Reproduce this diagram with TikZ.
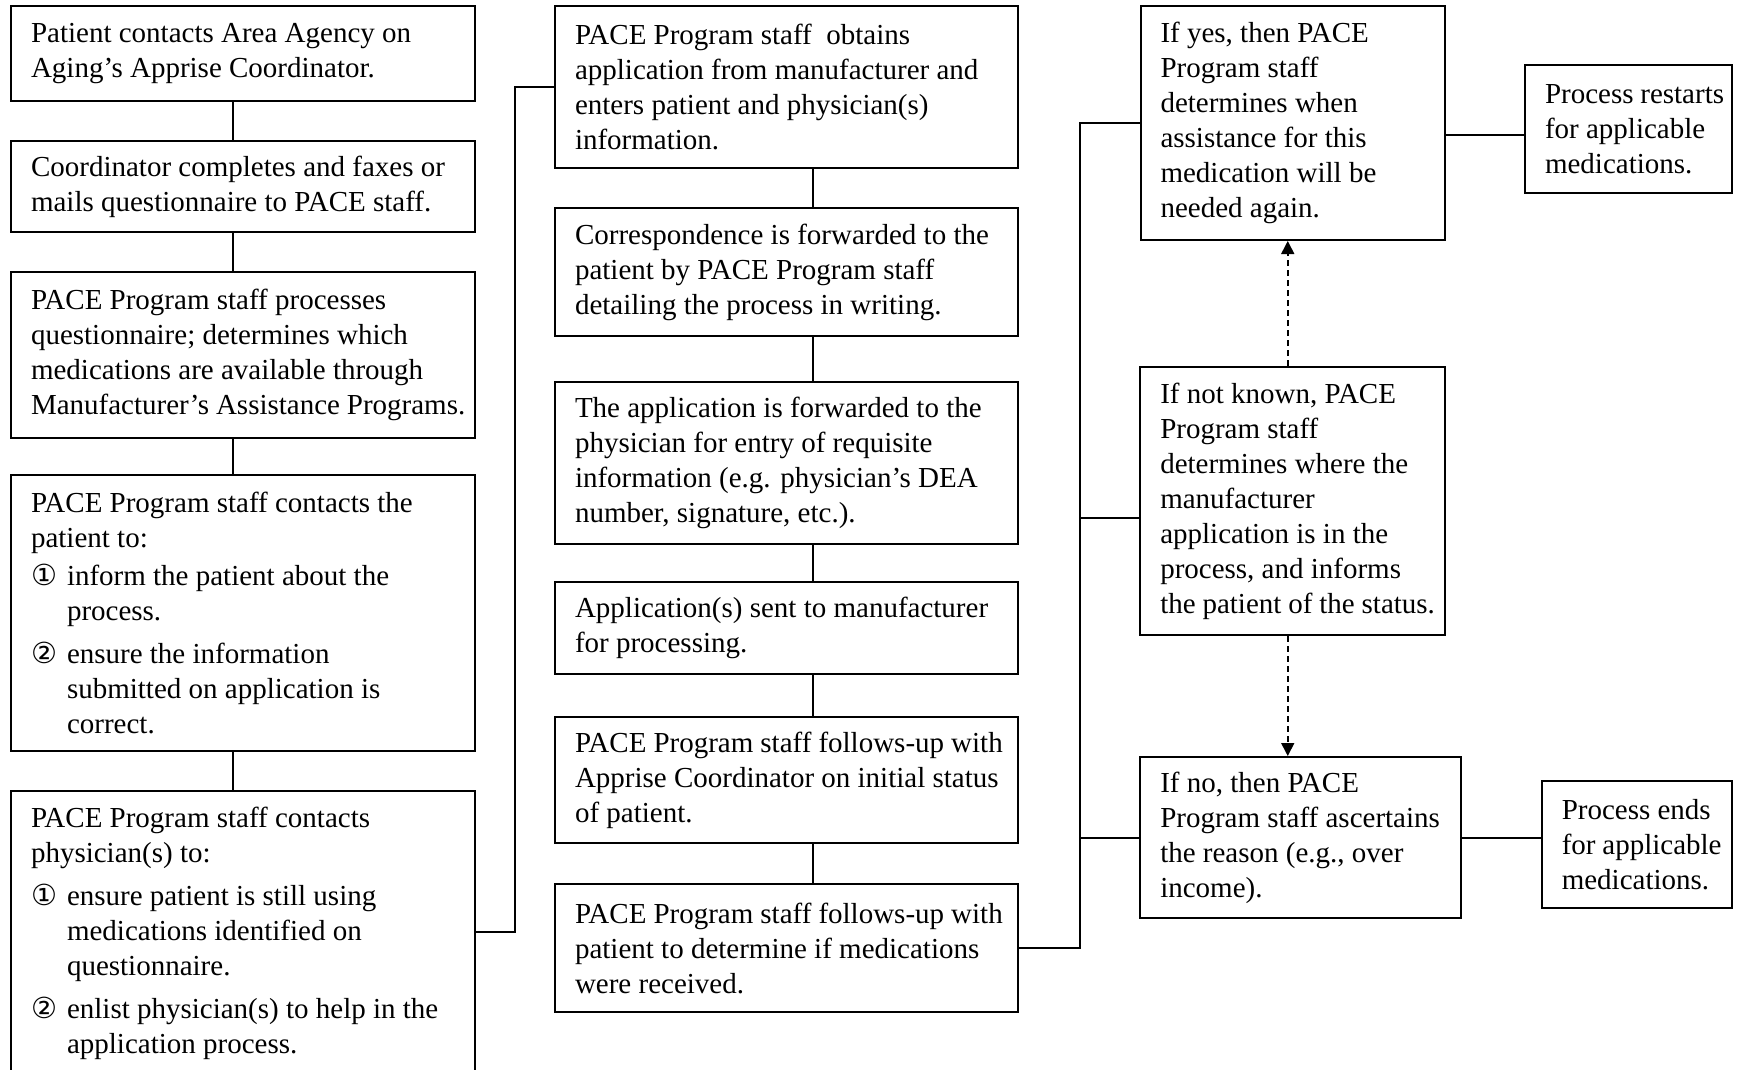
\documentclass[tikz,border=0pt]{standalone}
\usepackage{fontspec}
\setmainfont{Liberation Serif}
\newfontfamily\circfont{DejaVu Sans}
\usetikzlibrary{arrows.meta,positioning}
\newcommand{\numone}{\makebox[36pt][l]{\circfont\fontsize{29}{35}\selectfont ①}}
\newcommand{\numtwo}{\makebox[36pt][l]{\circfont\fontsize{29}{35}\selectfont ②}}
\newcommand{\hang}{\hspace*{36pt}}

\begin{document}
\begin{tikzpicture}[
  x=1pt, y=1pt,
  node distance=40pt,
  box/.style={draw, line width=2pt, inner xsep=20pt, inner ysep=0pt,
    align=flush left, font=\fontsize{29}{35}\selectfont,
    execute at begin node={\rightskip=0pt plus 1fil minus 60pt\hyphenpenalty=10000\relax}},
  leftbox/.style={box, text width=424pt},
  midbox/.style={box, text width=423pt},
  link/.style={line width=2pt},
  dasharrow/.style={line width=1.6pt, dash pattern=on 6pt off 4pt,
    -{Triangle[length=13pt,width=13pt]}}
]
\path[use as bounding box, clip] (0,0) rectangle (1738,-1070);

% left column
\node[leftbox, minimum height=94.5pt, anchor=north west] (b1) at (10,-5.5)
  {Patient contacts Area Agency on\\Aging’s Apprise Coordinator.};
\node[leftbox, minimum height=91pt, below=38pt of b1] (b2)
  {Coordinator completes and faxes or\\mails questionnaire to PACE staff.};
\node[leftbox, minimum height=166pt, below=38pt of b2] (b3)
  {PACE Program staff processes\\questionnaire; determines which\\
   medications are available through\\Manufacturer’s Assistance Programs.};
\node[leftbox, minimum height=275.5pt, below=35pt of b3] (b4)
  {PACE Program staff contacts the\\patient to:\\[3pt]
   \numone inform the patient about the\\\hang process.\\[8pt]
   \numtwo ensure the information\\\hang submitted on application is\\
   \hang correct.};
\node[leftbox, inner ysep=17pt, below=38pt of b4] (b5)
  {PACE Program staff contacts\\physician(s) to:\\[8pt]
   \numone ensure patient is still using\\\hang medications identified on\\
   \hang questionnaire.\\[8pt]
   \numtwo enlist physician(s) to help in the\\\hang application process.\\[30pt]};

% middle column
\node[midbox, minimum height=161.5pt, anchor=north west] (m1) at (554,-5.5)
  {PACE Program staff~ obtains\\application from manufacturer and\\
   enters patient and physician(s)\\information.};
\node[midbox, minimum height=128pt, below=38pt of m1] (m2)
  {Correspondence is forwarded to the\\patient by PACE Program staff\\
   detailing the process in writing.};
\node[midbox, minimum height=162pt, below=44pt of m2] (m3)
  {The application is forwarded to the\\physician for entry of requisite\\
   information (e.g. physician’s DEA\\number, signature, etc.).};
\node[midbox, minimum height=92pt, below=36pt of m3] (m4)
  {Application(s) sent to manufacturer\\for processing.};
\node[midbox, minimum height=126pt, below=41pt of m4] (m5)
  {PACE Program staff follows-up with\\Apprise Coordinator on initial status\\
   of patient.};
\node[midbox, minimum height=128pt, below=39pt of m5] (m6)
  {PACE Program staff follows-up with\\patient to determine if medications\\
   were received.};

% right column
\node[box, text width=264.5pt, minimum height=233.5pt, anchor=north west] (r1) at (1139.5,-5.5)
  {If yes, then PACE\\Program staff\\determines when\\assistance for this\\
   medication will be\\needed again.};
\node[box, text width=265pt, minimum height=268pt, below=125pt of r1] (r2)
  {If not known, PACE\\Program staff\\determines where the\\manufacturer\\
   application is in the\\process, and informs\\the patient of the status.};
\node[box, text width=280.5pt, minimum height=161pt, below=120pt of r2.south west,
  anchor=north west] (r3)
  {If no, then PACE\\Program staff ascertains\\the reason (e.g., over\\income).};
\node[box, text width=167pt, minimum height=128pt, right=78pt of r1, yshift=-6pt] (f1)
  {Process restarts\\for applicable\\medications.};
\node[box, text width=150pt, minimum height=126.5pt, right=79pt of r3, yshift=-7pt] (f2)
  {Process ends\\for applicable\\medications.};

% connectors
\foreach \a/\b in {b1/b2, b2/b3, b3/b4, b4/b5}
  \draw[link] ([xshift=-10pt]\a.south) -- ([xshift=-10pt]\b.north);
\foreach \a/\b in {m1/m2, m2/m3, m3/m4, m4/m5, m5/m6}
  \draw[link] ([xshift=26pt]\a.south) -- ([xshift=26pt]\b.north);
\draw[link] ([yshift=-142pt]b5.north east) -- ++(39,0) |- (m1.west);
\draw[link] (m6.east) -- ++(61,0) coordinate (busend) |- (r1.west);
\draw[link] ([yshift=-16.5pt]r2.west -| busend) -- ([yshift=-16.5pt]r2.west);
\draw[link] (r3.west -| busend) -- (r3.west);
\draw[link] ([yshift=-6pt]f1.west -| r1.east) -- ([yshift=-6pt]f1.west);
\draw[link] (r3.east) -- (r3.east -| f2.west);
\draw[dasharrow] ([xshift=-5pt]r2.north) -- ([xshift=-5pt]r2.north |- r1.south);
\draw[dasharrow] ([xshift=-5pt]r2.south) -- ([xshift=-5pt]r2.south |- r3.north);
\end{tikzpicture}
\end{document}
